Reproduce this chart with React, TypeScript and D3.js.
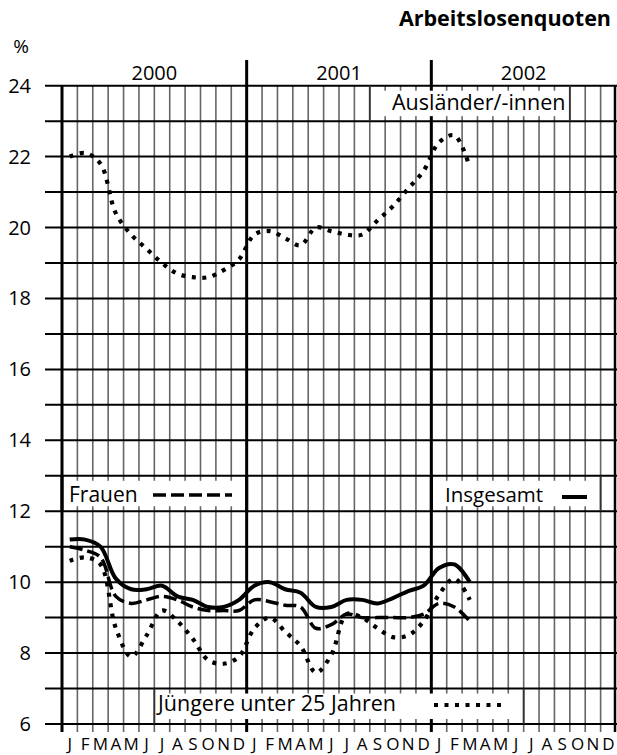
import React from 'react';
import * as d3 from 'd3';

const months = ['J', 'F', 'M', 'A', 'M', 'J', 'J', 'A', 'S', 'O', 'N', 'D'];
const years = ['2000', '2001', '2002'];
const yTicks = [6, 8, 10, 12, 14, 16, 18, 20, 22, 24];

// Jan 2000 .. Mar 2002, monthly values in %
const insgesamt = [11.2, 11.2, 11.0, 10.1, 9.8, 9.8, 9.9, 9.6, 9.5, 9.3, 9.3, 9.5,
  9.9, 10.0, 9.8, 9.7, 9.3, 9.3, 9.5, 9.5, 9.4, 9.55, 9.75, 9.9,
  10.4, 10.5, 10.0];
const frauen = [11.0, 10.9, 10.7, 9.6, 9.4, 9.5, 9.6, 9.5, 9.3, 9.2, 9.2, 9.2,
  9.5, 9.45, 9.35, 9.3, 8.7, 8.8, 9.1, 9.0, 9.0, 9.0, 9.0, 9.1,
  9.4, 9.3, 8.9];
const juengere = [10.6, 10.7, 10.5, 8.7, 7.9, 8.5, 9.2, 8.9, 8.4, 7.8, 7.7, 7.9,
  8.7, 9.0, 8.6, 8.2, 7.45, 7.95, 9.1, 9.0, 8.7, 8.45, 8.5, 8.9,
  9.65, 10.1, 9.5];
const auslaender = [22.0, 22.1, 21.8, 20.4, 19.8, 19.4, 19.0, 18.7, 18.6, 18.6, 18.8, 19.1,
  19.8, 19.9, 19.7, 19.5, 20.0, 19.9, 19.8, 19.8, 20.2, 20.6, 21.1, 21.6,
  22.4, 22.6, 21.7];

const FONT = '"Open Sans", "DejaVu Sans", sans-serif';

export default function App() {
  const W = 617;
  const H = 755;
  const x = d3.scaleLinear().domain([0, 36]).range([62, 616]);
  const y = d3.scaleLinear().domain([6, 24]).range([724, 85.7]);

  const line = d3.line<number>()
    .x((_, i) => x(i + 0.5))
    .y(d => y(d))
    .curve(d3.curveCatmullRom.alpha(0.5));

  const grid = d3.range(6, 25);
  const monthLines = d3.range(1, 36).filter(k => k % 12 !== 0);

  // legend boxes: month range and value range they sit in
  const boxes = [
    { k0: 0, k1: 12, v: 12 },
    { k0: 24, k1: 35, v: 12 },
    { k0: 20, k1: 33, v: 23 },
    { k0: 6, k1: 30, v: 6 },
  ];

  const dotted = { strokeDasharray: '4 6.5', strokeWidth: 4.2 };

  return (
    <svg width={W} height={H} style={{ position: 'absolute', left: 0, top: 0, background: '#fff' }}
      fontFamily={FONT}>
      <rect width={W} height={H} fill="#fff" />
      <text x={611} y={26} textAnchor="end" fontSize={21.5} fontWeight="bold">Arbeitslosenquoten</text>
      <text x={21} y={53} textAnchor="middle" fontSize={19}>%</text>

      {/* month grid */}
      {monthLines.map(k => (
        <line key={'m' + k} x1={x(k)} x2={x(k)} y1={y(24)} y2={y(6) + 8} stroke="#666" strokeWidth={1.6} />
      ))}
      {/* horizontal grid */}
      {grid.map(v => (
        <line key={'h' + v} x1={45} x2={W} y1={y(v)} y2={y(v)} stroke="#000" strokeWidth={2} />
      ))}

      {/* borders and year dividers */}
      <line x1={x(0)} x2={x(0)} y1={y(24)} y2={y(6) + 8} stroke="#000" strokeWidth={3} />
      <line x1={x(36) - 1} x2={x(36) - 1} y1={y(24)} y2={y(6) + 8} stroke="#000" strokeWidth={2.5} />
      {[12, 24].map(k => (
        <line key={'y' + k} x1={x(k)} x2={x(k)} y1={60} y2={y(6) + 8} stroke="#000" strokeWidth={3} />
      ))}

      {/* legend boxes */}
      {boxes.map((b, i) => (
        <g key={'b' + i}>
          <rect x={x(b.k0) + 2} width={x(b.k1) - x(b.k0) - 4} y={y(b.v + 1) + 5} height={y(b.v) - y(b.v + 1) - 10} fill="#fff" />
          <line x1={x(b.k0)} x2={x(b.k0)} y1={y(b.v + 1)} y2={y(b.v)} stroke="#333" strokeWidth={1.8} />
          <line x1={x(b.k1)} x2={x(b.k1)} y1={y(b.v + 1)} y2={y(b.v)} stroke="#333" strokeWidth={1.8} />
        </g>
      ))}
      {/* box sides on border / divider stay heavy */}
      <line x1={x(0)} x2={x(0)} y1={y(13)} y2={y(12)} stroke="#000" strokeWidth={3} />
      <line x1={x(12)} x2={x(12)} y1={y(13)} y2={y(12)} stroke="#000" strokeWidth={3} />
      <line x1={x(24)} x2={x(24)} y1={y(13)} y2={y(12)} stroke="#000" strokeWidth={3} />

      {/* axis labels */}
      {yTicks.map(v => (
        <text key={'t' + v} x={31} y={y(v)} dy="0.35em" textAnchor="end" fontSize={20}>{v}</text>
      ))}
      {years.map((yr, i) => (
        <text key={yr} x={x(i * 12 + 6)} y={80} textAnchor="middle" fontSize={20}>{yr}</text>
      ))}
      {d3.range(36).map(i => (
        <text key={'l' + i} x={x(i + 0.5)} y={750} textAnchor="middle" fontSize={17}>{months[i % 12]}</text>
      ))}

      {/* series */}
      <path d={line(auslaender) || ''} fill="none" stroke="#000" {...dotted} />
      <path d={line(juengere) || ''} fill="none" stroke="#000" {...dotted} />
      <path d={line(frauen) || ''} fill="none" stroke="#000" strokeWidth={3.5} strokeDasharray="13 5" />
      <path d={line(insgesamt) || ''} fill="none" stroke="#000" strokeWidth={4} strokeLinejoin="round" />

      {/* legend labels */}
      <text x={69} y={502} fontSize={21}>Frauen</text>
      <line x1={153} x2={232} y1={495} y2={495} stroke="#000" strokeWidth={3.5} strokeDasharray="13 5" />
      <text x={445} y={502} fontSize={20.5}>Insgesamt</text>
      <line x1={562} x2={587} y1={497} y2={497} stroke="#000" strokeWidth={4} />
      <text x={392} y={110} fontSize={21.5}>Ausländer/-innen</text>
      <text x={158} y={711} fontSize={21.5}>Jüngere unter 25 Jahren</text>
      <line x1={434} x2={504} y1={705} y2={705} stroke="#000" {...dotted} />
    </svg>
  );
}
